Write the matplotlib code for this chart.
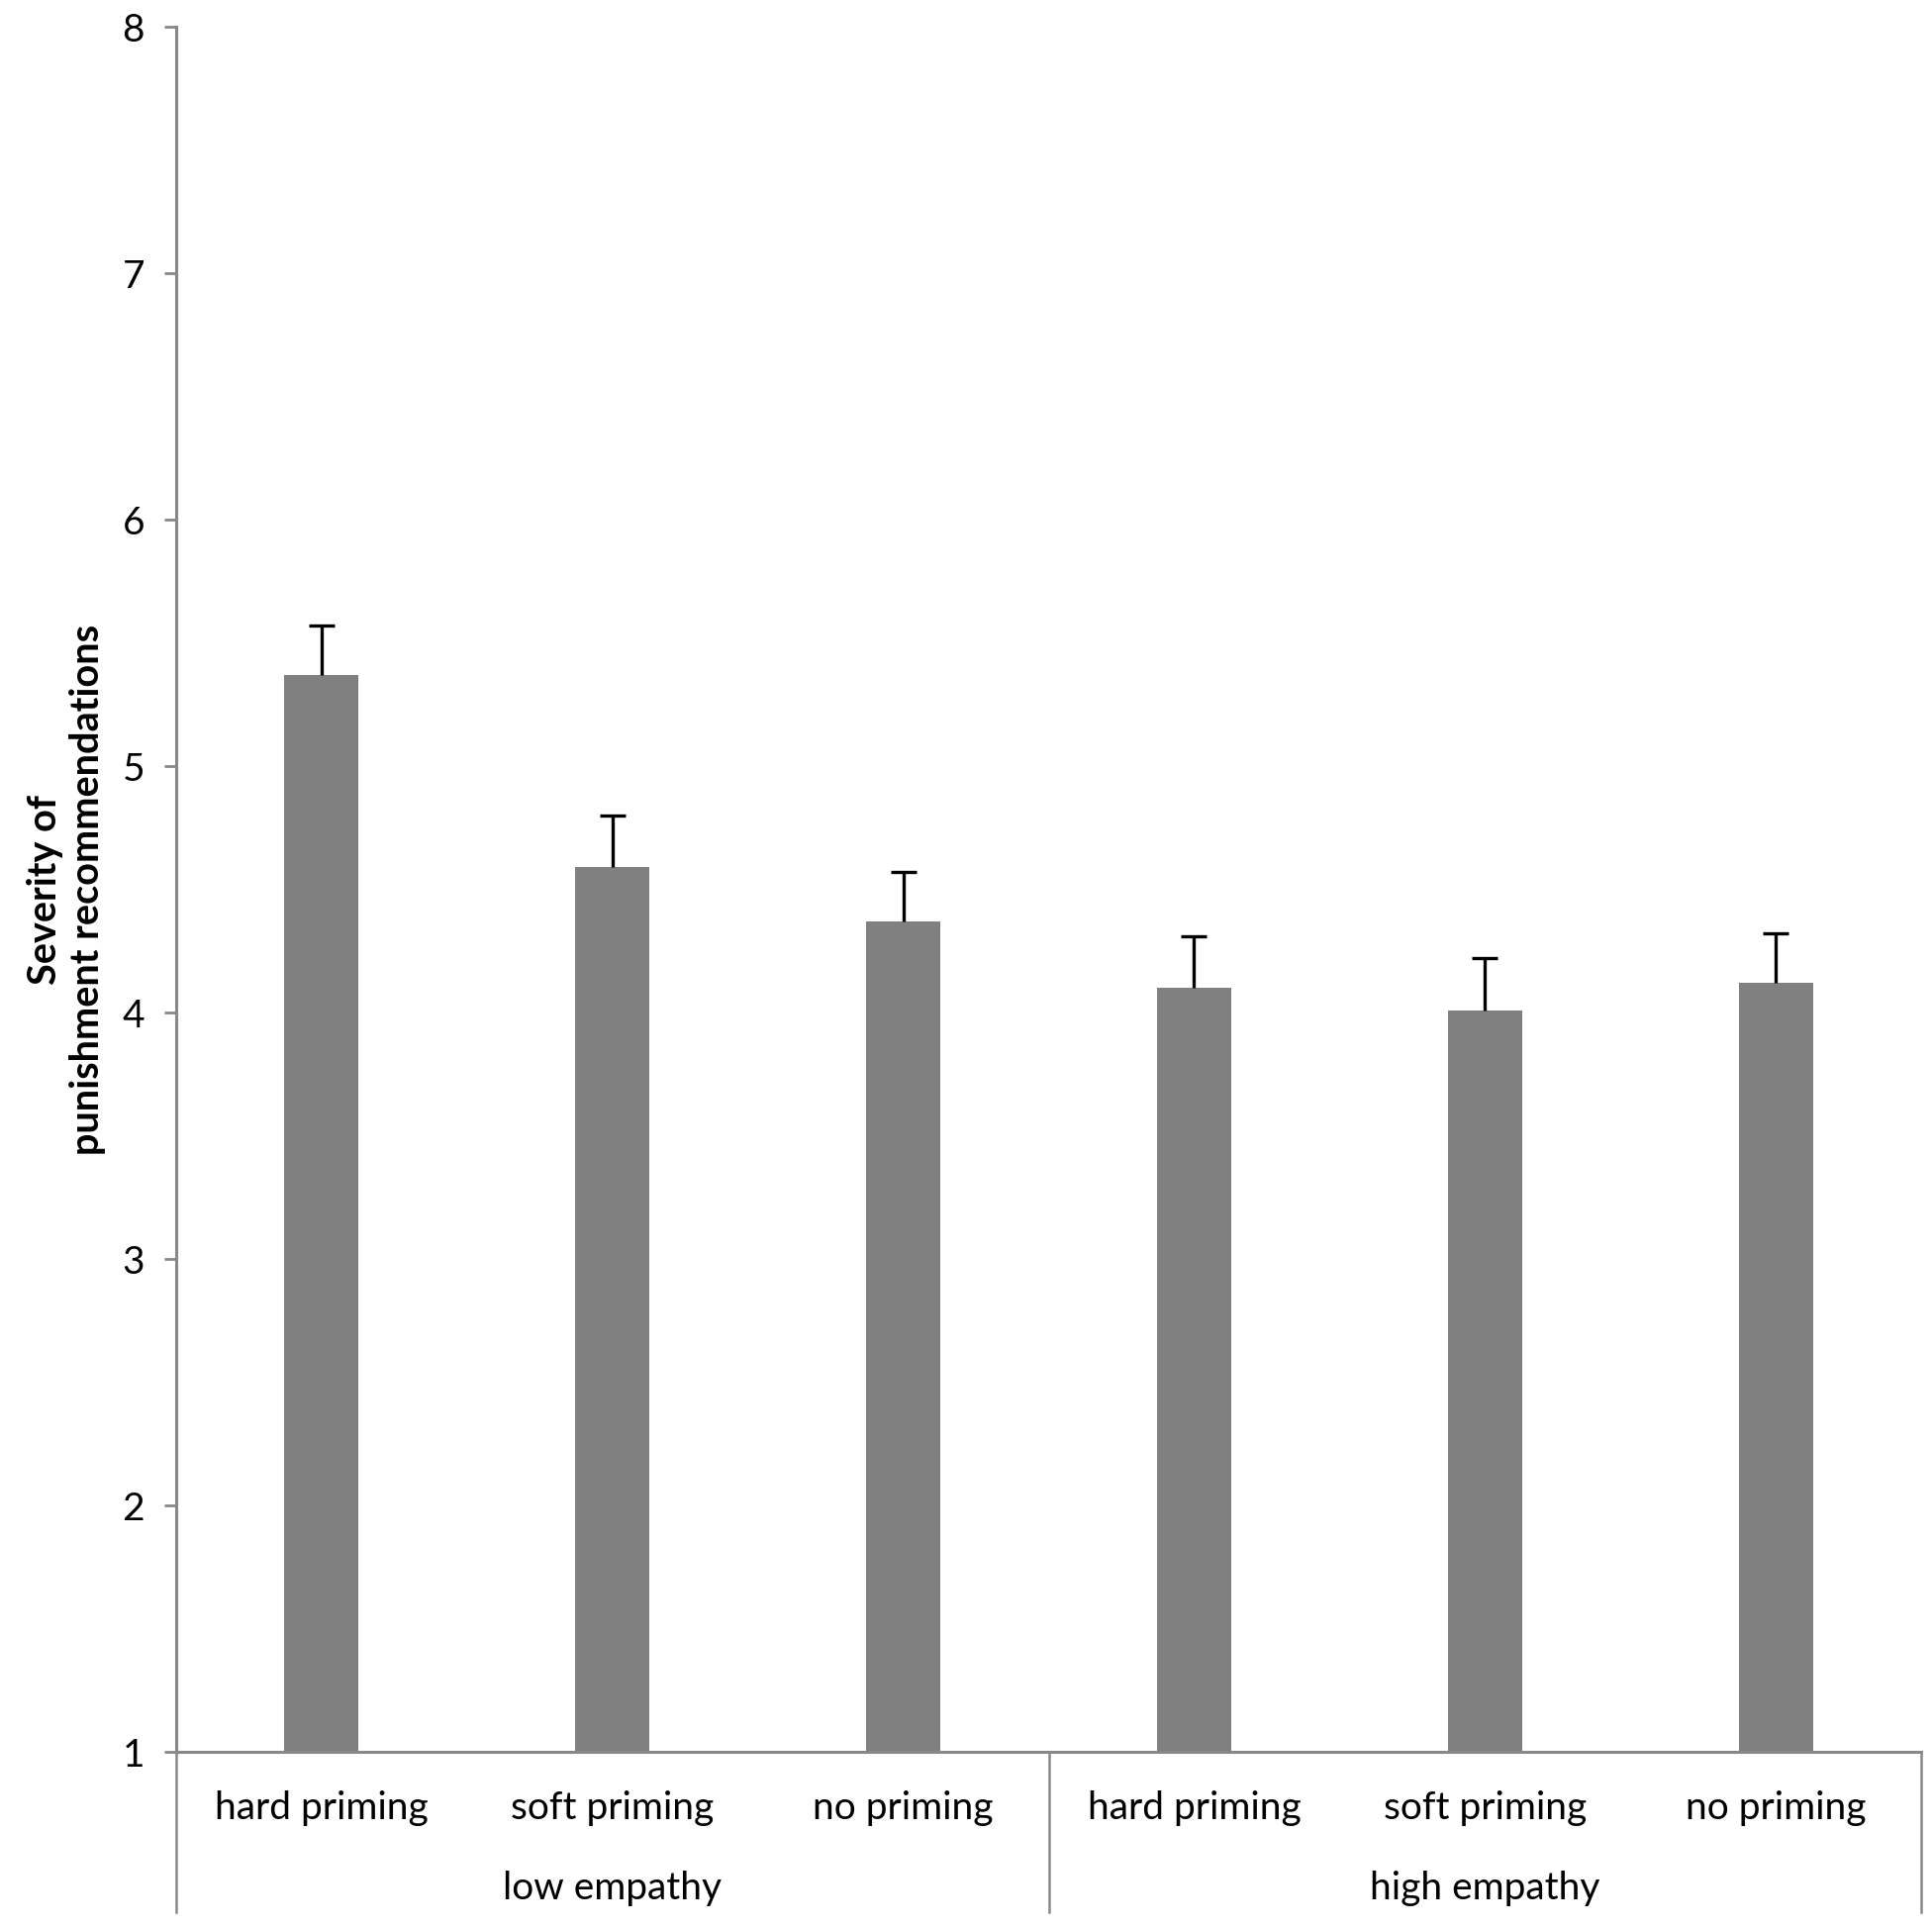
import numpy as np
import matplotlib.pyplot as plt
import matplotlib.transforms as mtransforms

plt.rcParams['font.family'] = ['Lato', 'DejaVu Sans']

groups = ['low empathy', 'high empathy']
conditions = ['hard priming', 'soft priming', 'no priming']
low_means = [5.37, 4.59, 4.37]
high_means = [4.10, 4.01, 4.12]
low_err = [0.20, 0.21, 0.20]
high_err = [0.21, 0.21, 0.20]

means = low_means + high_means
errs = low_err + high_err
labels = conditions * len(groups)
x = np.arange(len(means))

fig = plt.figure(figsize=(19.52, 19.47), dpi=100)
ax = fig.add_axes([0.0912, 0.0909, 0.9032, 0.8952])

ax.bar(x, means, width=0.255, color='#808080', zorder=2)
eb = ax.errorbar(x, means, yerr=[np.zeros(len(errs)), errs], fmt='none',
                 ecolor='black', elinewidth=2.4, capsize=9.5, capthick=2.4, zorder=3)
# only the upper cap, like the original
eb[1][0].set_visible(False)

ax.set_xlim(-0.5, len(means) - 0.5)
ax.set_ylim(1, 8)
ax.set_yticks(range(1, 9))
ax.set_xticks(x)
ax.set_xticklabels(labels, fontsize=28)
ax.tick_params(axis='x', length=0, pad=28)
ax.tick_params(axis='y', length=9, width=2, color='#888888', labelsize=28, pad=14, direction='out')

for s in ['top', 'right']:
    ax.spines[s].set_visible(False)
for s in ['left', 'bottom']:
    ax.spines[s].set_color('#888888')
    ax.spines[s].set_linewidth(2.2)

# group separators and labels under the axis
trans = mtransforms.blended_transform_factory(ax.transData, ax.transAxes)
n = len(conditions)
for i in range(len(groups) + 1):
    xe = i * n - 0.5
    ax.plot([xe, xe], [0, -0.093], color='#888888', lw=1.8, transform=trans, clip_on=False)
for i, g in enumerate(groups):
    ax.text(i * n + (n - 1) / 2, -0.079, g, transform=trans, ha='center', va='center', fontsize=28)

ax.set_ylabel('Severity of\npunishment recommendations', fontsize=28.5, fontweight='bold', labelpad=12)

fig.savefig('out.png', dpi=100)
